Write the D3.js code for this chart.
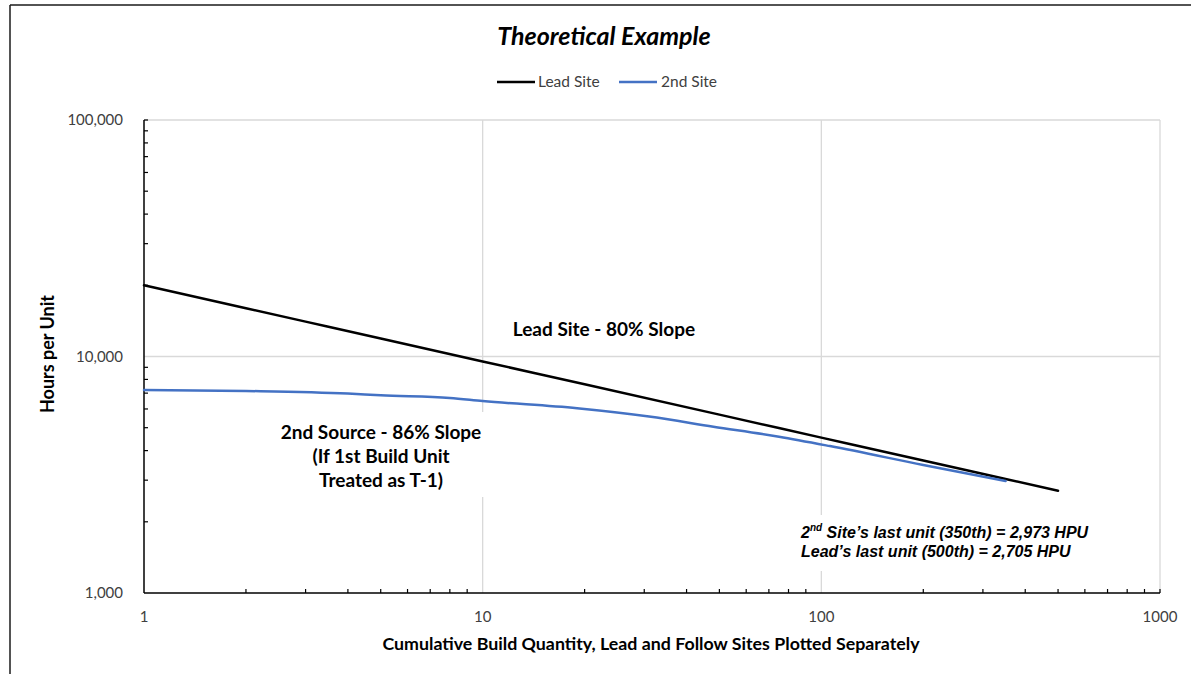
<!DOCTYPE html>
<html>
<head>
<meta charset="utf-8">
<script src="https://cdn.jsdelivr.net/npm/d3@7"></script>
<style>
  html, body { margin: 0; padding: 0; background: #fff; }
  svg { display: block; }
</style>
</head>
<body>
<svg id="chart" width="1191" height="674"></svg>
<script>
// Learning-curve data: cumulative unit number vs. hours per unit
const leadUnits  = [1, 2, 3, 5, 10, 20, 50, 100, 200, 350, 500];
const leadHours  = [20000, 16000, 14040, 11910, 9530, 7630, 5680, 4540, 3630, 3034, 2705];

const secondUnits = [1, 2, 4, 5, 8, 10, 19, 31, 48, 75, 106, 200, 350];
const secondHours = [7220, 7150, 6970, 6850, 6680, 6480, 6040, 5570, 5050, 4580, 4180, 3480, 2973];

const xTickValues = [1, 10, 100, 1000];
const xTickLabels = ["1", "10", "100", "1000"];
const yTickValues = [1000, 10000, 100000];
const yTickLabels = ["1,000", "10,000", "100,000"];

const seriesNames = ["Lead Site", "2nd Site"];
const seriesColors = ["#000000", "#4472C4"];

const svg = d3.select("#chart");
const plot = { left: 144, right: 1160, top: 120, bottom: 593 };

const x = d3.scaleLog().domain([1, 1000]).range([plot.left, plot.right]);
const y = d3.scaleLog().domain([1000, 100000]).range([plot.bottom, plot.top]);

const baseFont = "Lato, 'Open Sans', sans-serif";

// outer frame (left and top edges)
svg.append("line").attr("x1", 10).attr("x2", 10).attr("y1", 5).attr("y2", 674)
  .attr("stroke", "#1a1a1a").attr("stroke-width", 1.5);
svg.append("line").attr("x1", 10).attr("x2", 1191).attr("y1", 5).attr("y2", 5)
  .attr("stroke", "#1a1a1a").attr("stroke-width", 1.5);

// gridlines
const grid = svg.append("g").attr("stroke", "#d9d9d9").attr("stroke-width", 1.3);
grid.selectAll("line.h").data(yTickValues.slice(1)).join("line")
  .attr("x1", plot.left).attr("x2", plot.right)
  .attr("y1", d => y(d)).attr("y2", d => y(d));
grid.selectAll("line.v").data(xTickValues.slice(1)).join("line")
  .attr("x1", d => x(d)).attr("x2", d => x(d))
  .attr("y1", plot.top).attr("y2", plot.bottom);

// minor ticks (inside) on both axes
const xMinor = [];
[1, 10, 100].forEach(dec => { for (let k = 2; k <= 9; k++) xMinor.push(dec * k); });
xMinor.push(1000);
const yMinor = [];
[1000, 10000].forEach(dec => { for (let k = 2; k <= 9; k++) yMinor.push(dec * k); });
yMinor.push(100000);

const ticks = svg.append("g").attr("stroke", "#000").attr("stroke-width", 1.2);
ticks.selectAll("line.xm").data(xMinor).join("line")
  .attr("x1", d => x(d)).attr("x2", d => x(d))
  .attr("y1", plot.bottom).attr("y2", plot.bottom - 4);
ticks.selectAll("line.ym").data(yMinor).join("line")
  .attr("x1", plot.left).attr("x2", plot.left + 4)
  .attr("y1", d => y(d)).attr("y2", d => y(d));

// axis lines
svg.append("line").attr("x1", plot.left).attr("x2", plot.left)
  .attr("y1", plot.top).attr("y2", plot.bottom).attr("stroke", "#000").attr("stroke-width", 1.5);
svg.append("line").attr("x1", plot.left).attr("x2", plot.right)
  .attr("y1", plot.bottom).attr("y2", plot.bottom).attr("stroke", "#000").attr("stroke-width", 1.5);

// tick labels
svg.append("g").selectAll("text").data(yTickValues).join("text")
  .attr("x", 123).attr("y", d => y(d)).attr("dy", "0.35em")
  .attr("text-anchor", "end").attr("font-family", baseFont).attr("font-size", 15)
  .attr("fill", "#404040").text((d, i) => yTickLabels[i]);
svg.append("g").selectAll("text").data(xTickValues).join("text")
  .attr("x", d => x(d)).attr("y", 622)
  .attr("text-anchor", "middle").attr("font-family", baseFont).attr("font-size", 15)
  .attr("fill", "#404040").text((d, i) => xTickLabels[i]);

// annotation backgrounds (hide gridlines behind the text boxes)
svg.append("rect").attr("x", 265).attr("y", 412).attr("width", 232).attr("height", 85).attr("fill", "#fff");
svg.append("rect").attr("x", 795).attr("y", 515).attr("width", 305).attr("height", 56).attr("fill", "#fff");

// series lines
const lineGen = d3.line().x(d => x(d[0])).y(d => y(d[1])).curve(d3.curveMonotoneX);
const series = [
  d3.zip(leadUnits, leadHours),
  d3.zip(secondUnits, secondHours)
];
svg.append("g").selectAll("path").data(series).join("path")
  .attr("d", lineGen).attr("fill", "none")
  .attr("stroke", (d, i) => seriesColors[i]).attr("stroke-width", 2.5)
  .attr("stroke-linejoin", "round").attr("stroke-linecap", "round");

// title
svg.append("text").attr("x", 604).attr("y", 45).attr("text-anchor", "middle")
  .attr("font-family", baseFont).attr("font-size", 25).attr("font-weight", "bold")
  .attr("font-style", "italic").attr("fill", "#000").text("Theoretical Example");

// legend
const legendItems = [
  { x1: 497, x2: 535, tx: 538 },
  { x1: 619, x2: 657, tx: 661 }
];
const lg = svg.append("g");
legendItems.forEach((it, i) => {
  lg.append("line").attr("x1", it.x1).attr("x2", it.x2).attr("y1", 82).attr("y2", 82)
    .attr("stroke", seriesColors[i]).attr("stroke-width", 2.5);
  lg.append("text").attr("x", it.tx).attr("y", 82).attr("dy", "0.35em")
    .attr("font-family", baseFont).attr("font-size", 15.5).attr("fill", "#404040")
    .text(seriesNames[i]);
});

// axis titles
svg.append("text").attr("transform", "translate(54,354) rotate(-90)")
  .attr("text-anchor", "middle").attr("font-family", baseFont).attr("font-size", 18)
  .attr("font-weight", "bold").attr("fill", "#000").text("Hours per Unit");
svg.append("text").attr("x", 651).attr("y", 650).attr("text-anchor", "middle")
  .attr("font-family", baseFont).attr("font-size", 17.8).attr("font-weight", "bold")
  .attr("fill", "#000").text("Cumulative Build Quantity, Lead and Follow Sites Plotted Separately");

// in-plot annotations
svg.append("text").attr("x", 604).attr("y", 336).attr("text-anchor", "middle")
  .attr("font-family", baseFont).attr("font-size", 19).attr("font-weight", "bold")
  .attr("fill", "#000").text("Lead Site - 80% Slope");

const note2 = svg.append("text").attr("text-anchor", "middle")
  .attr("font-family", baseFont).attr("font-size", 19).attr("font-weight", "bold").attr("fill", "#000");
["2nd Source - 86% Slope", "(If 1st Build Unit", "Treated as T-1)"].forEach((t, i) => {
  note2.append("tspan").attr("x", 381).attr("y", 439 + i * 24).text(t);
});

const endNote = svg.append("g").attr("font-family", "'Liberation Sans', Arial, sans-serif")
  .attr("font-size", 16).attr("font-weight", "bold").attr("font-style", "italic").attr("fill", "#000");
const l1 = endNote.append("text").attr("x", 801).attr("y", 538);
l1.append("tspan").text("2");
l1.append("tspan").attr("font-size", 10).attr("dy", -7).text("nd");
l1.append("tspan").attr("dy", 7).text(" Site\u2019s last unit (350th) = 2,973 HPU");
endNote.append("text").attr("x", 801).attr("y", 557).text("Lead\u2019s last unit (500th) = 2,705 HPU");
</script>
</body>
</html>
